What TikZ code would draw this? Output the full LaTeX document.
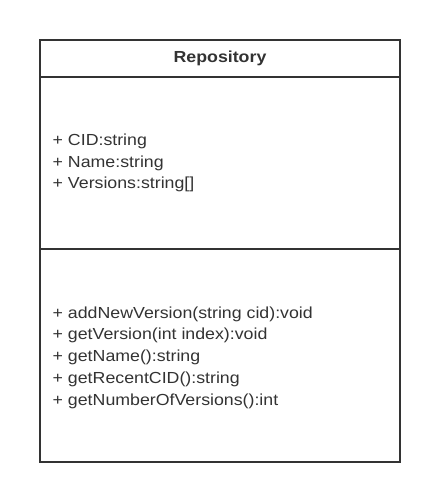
\documentclass[tikz,border=0pt]{standalone}
\usepackage{fontspec}
\usepackage{graphicx}
\setmainfont{Liberation Sans}
\definecolor{ink}{HTML}{333333}
\newcommand{\wtx}[1]{\scalebox{1.11}[1]{#1}}
\begin{document}
\begin{tikzpicture}[x=1bp,y=-1bp,
  boxline/.style={draw=ink,line width=2bp},
  member/.style={anchor=base west,inner sep=0pt,text=ink,font=\fontsize{16bp}{19bp}\selectfont},
  title/.style={anchor=base,inner sep=0pt,text=ink,font=\fontsize{16bp}{19bp}\selectfont\bfseries}]
\useasboundingbox (0,0) rectangle (440,503);
\fill[white] (0,0) rectangle (440,503);
\coordinate (tl) at (40,40);
\coordinate (br) at (400,462);
\coordinate (h1l) at (40,77.5);
\coordinate (h1r) at (400,77.5);
\coordinate (h2l) at (40,249);
\coordinate (h2r) at (400,249);
\draw[boxline] (tl) rectangle (br);
\draw[boxline] (h1l) -- (h1r);
\draw[boxline] (h2l) -- (h2r);
\node[title] (name) at (220,62.7) {\wtx{Repository}};
\node[member] (a1) at (52.5,145.5) {\wtx{+ CID:string}};
\node[member] (a2) at (52.5,167.2) {\wtx{+ Name:string}};
\node[member] (a3) at (52.5,188.9) {\wtx{+ Versions:string[]}};
\node[member] (m1) at (52.5,318.2) {\wtx{+ addNewVersion(string cid):void}};
\node[member] (m2) at (52.5,339.9) {\wtx{+ getVersion(int index):void}};
\node[member] (m3) at (52.5,361.6) {\wtx{+ getName():string}};
\node[member] (m4) at (52.5,383.3) {\wtx{+ getRecentCID():string}};
\node[member] (m5) at (52.5,405.0) {\wtx{+ getNumberOfVersions():int}};
\end{tikzpicture}
\end{document}
